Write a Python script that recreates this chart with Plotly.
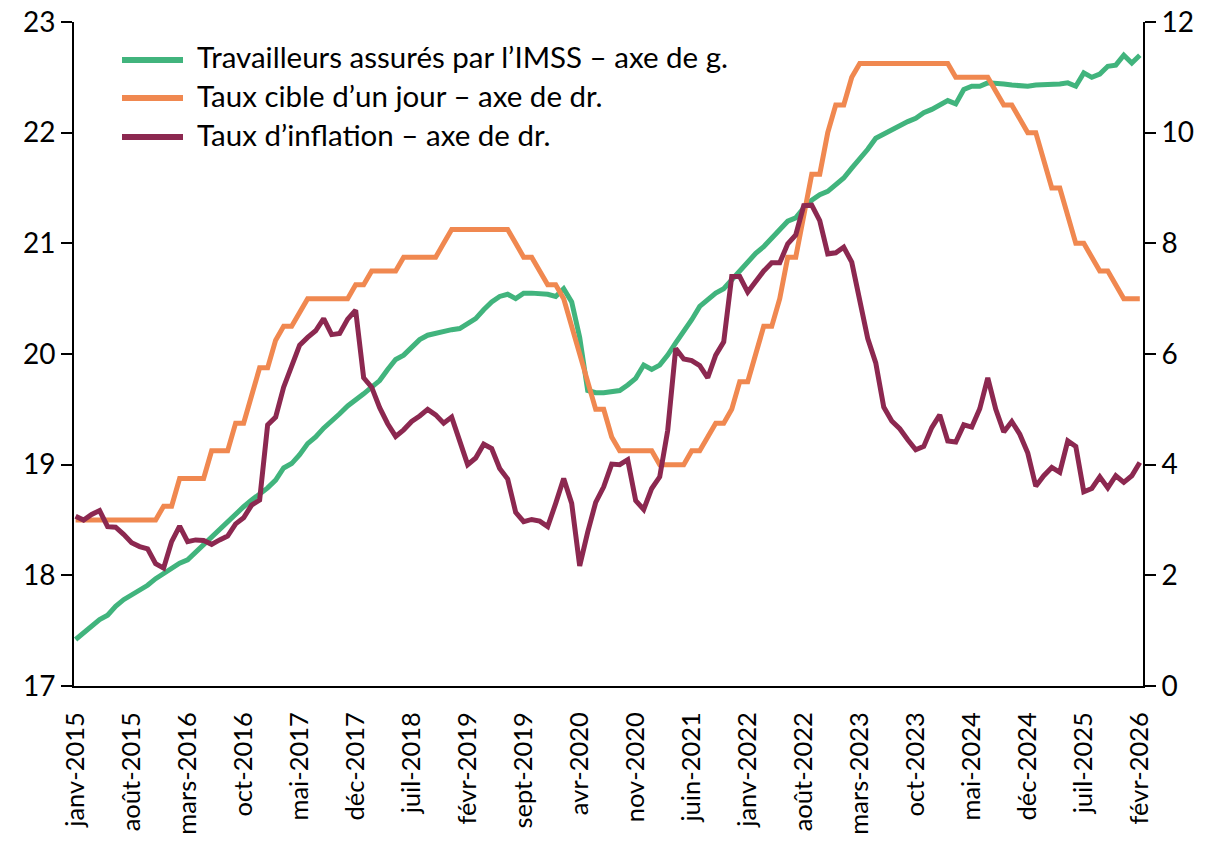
import plotly.graph_objects as go

MOIS = ["janv", "févr", "mars", "avr", "mai", "juin", "juil", "août", "sept", "oct", "nov", "déc"]
months = [f"{MOIS[m]}-{y}" for y in range(2015, 2027) for m in range(12)][:134]

tick_labels = ["janv-2015", "août-2015", "mars-2016", "oct-2016", "mai-2017", "déc-2017",
               "juil-2018", "févr-2019", "sept-2019", "avr-2020", "nov-2020", "juin-2021",
               "janv-2022", "août-2022", "mars-2023", "oct-2023", "mai-2024", "déc-2024",
               "juil-2025", "févr-2026"]

# Travailleurs assurés par l'IMSS (millions) – axe de gauche
imss = [
    17.42, 17.48, 17.54, 17.60, 17.64, 17.72, 17.78, 17.82, 17.87, 17.91, 17.97, 18.02,
    18.06, 18.11, 18.14, 18.21, 18.28, 18.35, 18.41, 18.48, 18.56, 18.62, 18.68, 18.73,
    18.79, 18.86, 18.97, 19.01, 19.09, 19.19, 19.25, 19.33, 19.39, 19.46, 19.53, 19.58,
    19.64, 19.70, 19.76, 19.86, 19.95, 19.99, 20.06, 20.13, 20.17, 20.19, 20.20, 20.22,
    20.23, 20.28, 20.32, 20.40, 20.47, 20.52, 20.54, 20.50, 20.55, 20.55, 20.55, 20.54,
    20.52, 20.59, 20.47, 20.15, 19.67, 19.65, 19.65, 19.66, 19.67, 19.72, 19.78, 19.90,
    19.86, 19.90, 19.99, 20.10, 20.20, 20.31, 20.43, 20.49, 20.55, 20.59, 20.67, 20.74,
    20.82, 20.91, 20.97, 21.05, 21.12, 21.20, 21.23, 21.32, 21.39, 21.44, 21.47, 21.53,
    21.59, 21.68, 21.76, 21.85, 21.95, 21.99, 22.02, 22.06, 22.10, 22.13, 22.18, 22.21,
    22.25, 22.29, 22.26, 22.39, 22.42, 22.42, 22.45, 22.45, 22.44, 22.43, 22.42, 22.42,
    22.43, 22.43, 22.44, 22.44, 22.45, 22.42, 22.54, 22.50, 22.53, 22.60, 22.61, 22.70,
    22.63, 22.70,
]

# Taux cible d'un jour (%) – axe de droite
taux_cible = [
    3.00, 3.00, 3.00, 3.00, 3.00, 3.00, 3.00, 3.00, 3.00, 3.00, 3.00, 3.25,
    3.25, 3.75, 3.75, 3.75, 3.75, 4.25, 4.25, 4.25, 4.75, 4.75, 5.25, 5.75,
    5.75, 6.25, 6.50, 6.50, 6.75, 7.00, 7.00, 7.00, 7.00, 7.00, 7.00, 7.25,
    7.25, 7.50, 7.50, 7.50, 7.50, 7.75, 7.75, 7.75, 7.75, 7.75, 8.00, 8.25,
    8.25, 8.25, 8.25, 8.25, 8.25, 8.25, 8.25, 8.00, 7.75, 7.75, 7.50, 7.25,
    7.25, 7.00, 6.50, 6.00, 5.50, 5.00, 5.00, 4.50, 4.25, 4.25, 4.25, 4.25,
    4.25, 4.00, 4.00, 4.00, 4.00, 4.25, 4.25, 4.50, 4.75, 4.75, 5.00, 5.50,
    5.50, 6.00, 6.50, 6.50, 7.00, 7.75, 7.75, 8.50, 9.25, 9.25, 10.00, 10.50,
    10.50, 11.00, 11.25, 11.25, 11.25, 11.25, 11.25, 11.25, 11.25, 11.25, 11.25, 11.25,
    11.25, 11.25, 11.00, 11.00, 11.00, 11.00, 11.00, 10.75, 10.50, 10.50, 10.25, 10.00,
    10.00, 9.50, 9.00, 9.00, 8.50, 8.00, 8.00, 7.75, 7.50, 7.50, 7.25, 7.00,
    7.00, 7.00,
]

# Taux d'inflation (%) – axe de droite
inflation = [
    3.07, 3.00, 3.10, 3.17, 2.88, 2.87, 2.74, 2.59, 2.52, 2.48, 2.21, 2.13,
    2.61, 2.89, 2.61, 2.64, 2.63, 2.56, 2.64, 2.71, 2.93, 3.04, 3.27, 3.36,
    4.72, 4.86, 5.40, 5.80, 6.16, 6.30, 6.42, 6.64, 6.35, 6.37, 6.63, 6.79,
    5.57, 5.40, 5.03, 4.74, 4.51, 4.63, 4.78, 4.88, 5.00, 4.90, 4.75, 4.86,
    4.42, 4.00, 4.12, 4.37, 4.29, 3.93, 3.74, 3.14, 2.97, 3.01, 2.98, 2.88,
    3.30, 3.75, 3.30, 2.17, 2.78, 3.32, 3.60, 4.01, 4.00, 4.09, 3.35, 3.19,
    3.57, 3.78, 4.62, 6.10, 5.91, 5.88, 5.79, 5.57, 5.98, 6.22, 7.40, 7.40,
    7.12, 7.31, 7.50, 7.65, 7.65, 7.99, 8.15, 8.68, 8.69, 8.41, 7.81, 7.83,
    7.93, 7.66, 6.92, 6.28, 5.84, 5.04, 4.79, 4.65, 4.45, 4.27, 4.33, 4.67,
    4.90, 4.43, 4.41, 4.72, 4.68, 5.01, 5.57, 5.00, 4.59, 4.78, 4.55, 4.21,
    3.61, 3.80, 3.95, 3.86, 4.43, 4.33, 3.51, 3.57, 3.78, 3.58, 3.80, 3.68,
    3.80, 4.04,
]

series_names = ["Travailleurs assurés par l’IMSS – axe de g.",
                "Taux cible d’un jour – axe de dr.",
                "Taux d’inflation – axe de dr."]
colors = ["#41B47D", "#F08850", "#8C2850"]

FONT = "Lato"
W, H = 1208, 842
L, R, T, B = 74, 65, 22, 156
PW, PH = W - L - R, H - T - B

fig = go.Figure()
fig.add_trace(go.Scatter(x=months, y=imss, mode="lines", name=series_names[0],
                         line=dict(color=colors[0], width=5), yaxis="y", showlegend=False))
fig.add_trace(go.Scatter(x=months, y=taux_cible, mode="lines", name=series_names[1],
                         line=dict(color=colors[1], width=5), yaxis="y2", showlegend=False))
fig.add_trace(go.Scatter(x=months, y=inflation, mode="lines", name=series_names[2],
                         line=dict(color=colors[2], width=5), yaxis="y2", showlegend=False))

# manual legend (pixel positions converted to paper coordinates)
def px_x(p):
    return (p - L) / PW

def px_y(p):
    return (H - B - p) / PH

legend_rows = [57, 95, 134]
shapes = []
annotations = []
for name, col, yrow in zip(series_names, colors, legend_rows):
    shapes.append(dict(type="line", xref="paper", yref="paper",
                       x0=px_x(122), x1=px_x(183), y0=px_y(yrow + 3), y1=px_y(yrow + 3),
                       line=dict(color=col, width=6)))
    annotations.append(dict(xref="paper", yref="paper", x=px_x(195), y=px_y(yrow),
                            xanchor="left", yanchor="middle", showarrow=False,
                            text=name, font=dict(family=FONT, size=29.5, color="#000000")))

axis_common = dict(showgrid=False, zeroline=False, showline=True, linecolor="#000000",
                   linewidth=2, ticks="outside", ticklen=11, tickwidth=2, tickcolor="#000000",
                   automargin=False,
                   tickfont=dict(family=FONT, size=28, color="#000000"))

fig.update_layout(
    width=W, height=H,
    margin=dict(l=L, r=R, t=T, b=B, pad=0, autoexpand=False),
    paper_bgcolor="#FFFFFF", plot_bgcolor="#FFFFFF",
    shapes=shapes, annotations=annotations,
    xaxis=dict(type="category", range=[-0.2, 133.4], tickmode="array",
               tickvals=tick_labels, ticktext=tick_labels, tickangle=-90,
               showgrid=False, zeroline=False, showline=True, linecolor="#000000",
               linewidth=2, ticks="", ticklabelstandoff=14, automargin=False,
               tickfont=dict(family=FONT, size=25.5, color="#000000")),
    yaxis=dict(range=[17, 23], dtick=1, tick0=17, **axis_common),
    yaxis2=dict(range=[0, 12], dtick=2, tick0=0, overlaying="y", side="right", **axis_common),
)

fig.write_html("out.html", config={"displayModeBar": False},
               post_script="document.body.style.margin='0';")
